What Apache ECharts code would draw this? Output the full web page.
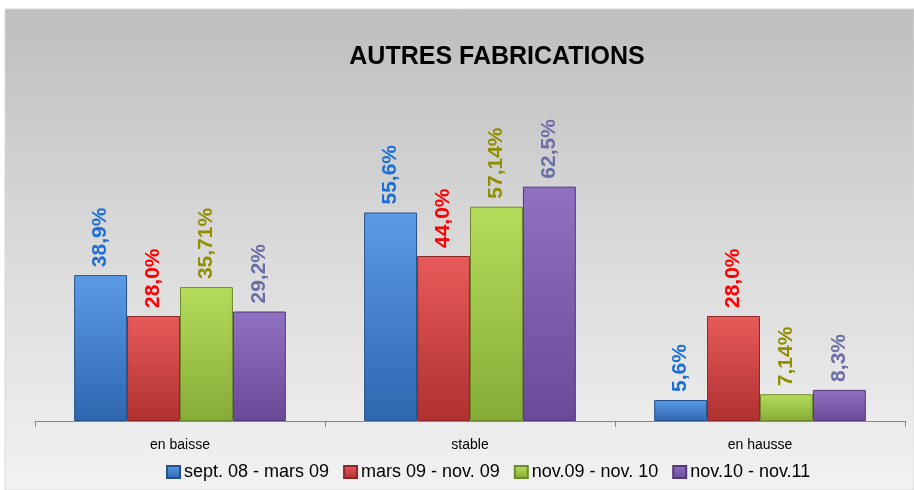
<!DOCTYPE html>
<html>
<head>
<meta charset="utf-8">
<script src="https://cdn.jsdelivr.net/npm/echarts@6/dist/echarts.min.js"></script>
<style>
  html, body { margin: 0; padding: 0; background: #fff; }
  #chart { width: 914px; height: 490px; }
</style>
</head>
<body>
<div id="chart"></div>
<script>
// données
var categories = ['en baisse', 'stable', 'en hausse'];
var seriesNames = ['sept. 08 - mars 09', 'mars 09 - nov. 09', 'nov.09 - nov. 10', 'nov.10 - nov.11'];
var valSept08 = [38.9, 55.6, 5.6];
var valMars09 = [28.0, 44.0, 28.0];
var valNov09 = [35.71, 57.14, 7.14];
var valNov10 = [29.2, 62.5, 8.3];
var decimals = [1, 1, 2, 1];

var barTop = ['#5b9be6', '#e85a5a', '#b5dc5a', '#9070c0'];
var barBottom = ['#2f66b0', '#b03030', '#86ac38', '#6a4a98'];
var borders = ['#24508c', '#8c2626', '#6c8c2a', '#54387a'];
var labelColors = ['#1b6fd6', '#ff0000', '#8f8f00', '#6e6ea6'];

var font = "'Liberation Sans', sans-serif";

var myChart = echarts.init(document.getElementById('chart'));

function makeSeries(i, data){
	return {
		name: seriesNames[i],
		type: 'bar',
		data: data,
		barGap: '0%',
		barCategoryGap: '27%',
		itemStyle: {
			color: new echarts.graphic.LinearGradient(0, 0, 0, 1, [
				{ offset: 0, color: barTop[i] },
				{ offset: 1, color: barBottom[i] }
			]),
			borderColor: borders[i],
			borderWidth: 1
		},
		label: {
			show: true,
			position: 'top',
			rotate: 90,
			align: 'left',
			verticalAlign: 'middle',
			distance: 8,
			color: labelColors[i],
			fontFamily: font,
			fontWeight: 'bold',
			fontSize: 21,
			formatter: function(p){
				return p.value.toFixed(decimals[i]).replace('.', ',') + '%';
			}
		}
	};
}

option = {
	animation: false,
	graphic: [{
		type: 'rect',
		z: -10,
		shape: { x: 5, y: 9, width: 909, height: 481 },
		style: {
			fill: new echarts.graphic.LinearGradient(0, 0, 0, 1, [
				{ offset: 0, color: '#bebebe' },
				{ offset: 0.5, color: '#dadada' },
				{ offset: 1, color: '#f2f2f2' }
			]),
			stroke: '#d8d8d8'
		}
	}],
	title: {
		text: 'AUTRES FABRICATIONS',
		left: 492,
		textAlign: 'center',
		top: 40,
		textStyle: {
			fontFamily: font,
			fontWeight: 'bold',
			fontSize: 25,
			color: '#000'
		}
	},
	legend: {
		top: 458,
		left: 161,
		itemWidth: 13,
		itemHeight: 12,
		itemGap: 14,
		icon: 'rect',
		textStyle: { fontFamily: font, fontSize: 18, color: '#000', padding: [0, 0, 0, -1] },
		data: seriesNames
	},
	grid: { left: 35, right: 9, top: 158.5, bottom: 69 },
	xAxis: {
		type: 'category',
		data: categories,
		axisLine: { lineStyle: { color: '#888', width: 1 } },
		axisTick: { show: true, length: 6, lineStyle: { color: '#888' } },
		axisLabel: { fontFamily: font, fontSize: 14, color: '#000', margin: 17 }
	},
	yAxis: {
		type: 'value',
		min: 0,
		max: 70,
		show: false,
		splitLine: { show: false }
	},
	series: [
		makeSeries(0, valSept08),
		makeSeries(1, valMars09),
		makeSeries(2, valNov09),
		makeSeries(3, valNov10)
	]
};

myChart.setOption(option);
</script>
</body>
</html>
